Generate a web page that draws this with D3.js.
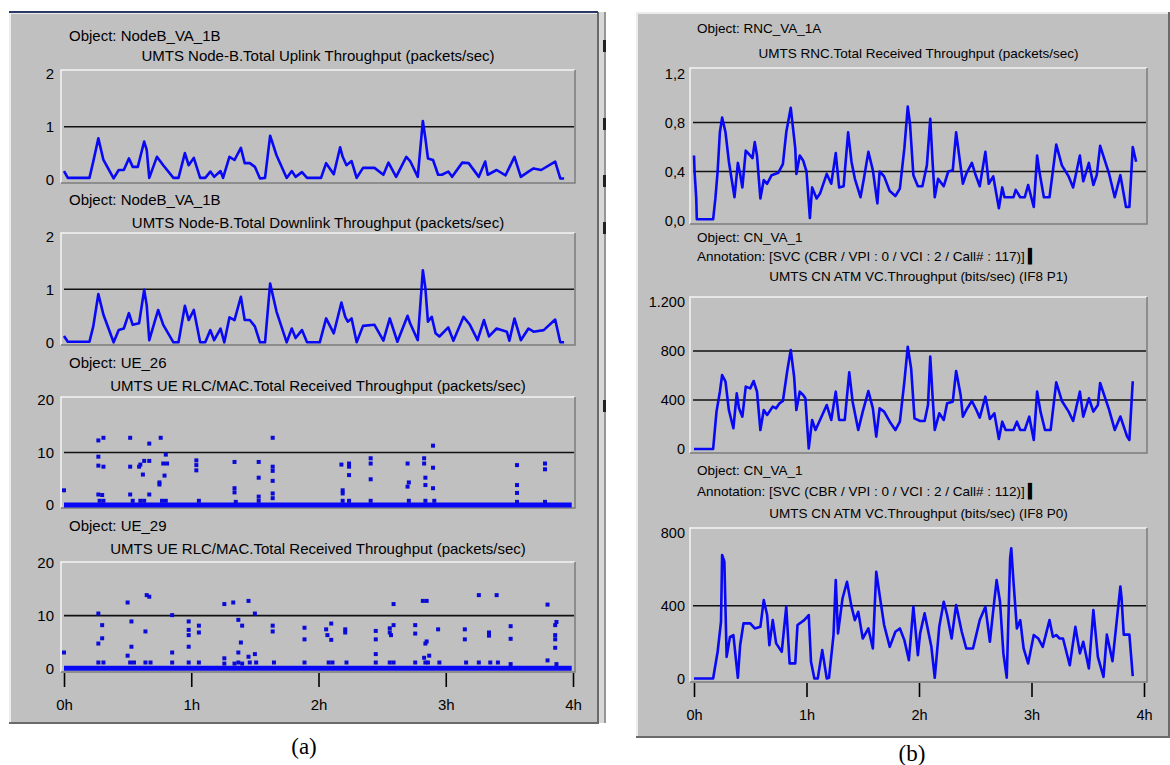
<!DOCTYPE html>
<html lang="en">
<head>
<meta charset="UTF-8">
<title>UMTS throughput results</title>
<script src="https://d3js.org/d3.v7.min.js"></script>
<style>
  body { margin: 0; background: #fff; }
  svg text { font-family: "Liberation Sans", Arial, sans-serif; fill: #000; }
  .cap { font-family: "Liberation Serif", "Times New Roman", serif !important; }
</style>
</head>
<body>
<svg width="1170" height="765"></svg>
<script>
// time axis (hours)
var hourTicks = [0, 1, 2, 3, 4];
var hourLabels = ["0h", "1h", "2h", "3h", "4h"];

// [hour, value] readings
var uplink = [[0,0.16],[0.03,0.03],[0.20,0.03],[0.23,0.34],[0.27,0.78],[0.31,0.37],[0.39,0.02],[0.43,0.18],[0.47,0.18],[0.51,0.40],[0.54,0.24],[0.58,0.24],[0.63,0.72],[0.65,0.56],[0.67,0.03],[0.73,0.43],[0.78,0.27],[0.86,0.03],[0.90,0.03],[0.95,0.50],[0.98,0.27],[1.02,0.41],[1.07,0.03],[1.11,0.03],[1.15,0.15],[1.18,0.05],[1.23,0.16],[1.25,0.03],[1.30,0.43],[1.34,0.37],[1.39,0.60],[1.42,0.31],[1.46,0.31],[1.50,0.24],[1.54,0.02],[1.58,0.03],[1.62,0.83],[1.67,0.46],[1.75,0.03],[1.79,0.16],[1.82,0.05],[1.87,0.14],[1.91,0.03],[2.02,0.03],[2.06,0.31],[2.12,0.10],[2.17,0.61],[2.19,0.43],[2.22,0.27],[2.26,0.35],[2.30,0.03],[2.35,0.22],[2.44,0.22],[2.51,0.09],[2.55,0.32],[2.61,0.05],[2.69,0.43],[2.72,0.35],[2.78,0.05],[2.82,1.11],[2.84,0.78],[2.86,0.40],[2.90,0.37],[2.94,0.09],[2.97,0.09],[3.02,0.15],[3.05,0.05],[3.13,0.32],[3.18,0.31],[3.26,0.05],[3.31,0.34],[3.33,0.09],[3.40,0.18],[3.47,0.08],[3.54,0.43],[3.59,0.05],[3.65,0.15],[3.69,0.21],[3.75,0.18],[3.86,0.34],[3.90,0.02],[3.93,0.02]];

var downlink = [[0,0.12],[0.03,0.01],[0.20,0.01],[0.23,0.30],[0.27,0.91],[0.31,0.52],[0.39,0],[0.43,0.23],[0.47,0.26],[0.51,0.55],[0.54,0.33],[0.59,0.36],[0.63,0.99],[0.65,0.70],[0.67,0.04],[0.74,0.61],[0.78,0.33],[0.86,0],[0.90,0],[0.95,0.69],[0.98,0.42],[1.02,0.61],[1.07,0],[1.11,0],[1.15,0.23],[1.18,0.04],[1.23,0.26],[1.26,0],[1.30,0.47],[1.34,0.42],[1.39,0.86],[1.42,0.42],[1.46,0.42],[1.50,0.30],[1.54,0],[1.58,0],[1.62,1.11],[1.67,0.58],[1.75,0],[1.79,0.26],[1.82,0.08],[1.87,0.23],[1.91,0],[2.01,0],[2.06,0.45],[2.12,0.17],[2.18,0.75],[2.21,0.48],[2.23,0.39],[2.26,0.45],[2.30,0],[2.35,0.31],[2.44,0.33],[2.51,0.03],[2.56,0.45],[2.62,0.01],[2.70,0.50],[2.72,0.36],[2.78,0.04],[2.82,1.36],[2.84,1.02],[2.86,0.39],[2.89,0.48],[2.92,0.17],[2.95,0.11],[3.02,0.28],[3.06,0.03],[3.14,0.48],[3.19,0.33],[3.25,0.04],[3.30,0.42],[3.34,0.11],[3.40,0.26],[3.48,0.20],[3.50,0.03],[3.54,0.45],[3.59,0.04],[3.65,0.26],[3.69,0.20],[3.77,0.23],[3.86,0.43],[3.90,0],[3.93,0]];

var ue26 = [[0,2.8],[0.27,12.3],[0.31,12.8],[0.27,9.2],[0.27,7.5],[0.31,7.3],[0.27,2.0],[0.30,1.9],[0.28,0.8],[0.31,0.8],[0.52,12.8],[0.52,7.3],[0.52,2.0],[0.54,0.8],[0.59,7.3],[0.60,7.7],[0.63,8.4],[0.62,5.8],[0.67,11.7],[0.67,8.4],[0.60,0.8],[0.63,0.8],[0.67,2.0],[0.76,12.8],[0.78,7.9],[0.81,7.9],[0.80,9.6],[0.79,5.6],[0.75,4.3],[0.75,3.9],[0.77,0.8],[0.80,0.8],[1.04,8.5],[1.04,7.6],[1.04,6.6],[1.06,0.8],[1.34,8.2],[1.34,3.2],[1.34,2.4],[1.35,0.6],[1.53,8.2],[1.53,5.2],[1.53,1.6],[1.53,0.8],[1.64,12.8],[1.64,7.3],[1.64,6.5],[1.64,4.6],[1.64,2.2],[1.64,1.3],[2.18,7.7],[2.24,7.9],[2.24,7.3],[2.24,5.7],[2.19,2.8],[2.19,2.2],[2.19,0.8],[2.24,0.8],[2.41,8.9],[2.41,7.9],[2.41,4.9],[2.41,0.8],[2.70,7.9],[2.71,4.3],[2.70,3.5],[2.71,0.8],[2.83,8.9],[2.83,7.9],[2.90,11.3],[2.90,7.1],[2.84,5.2],[2.84,3.8],[2.90,3.2],[2.84,0.8],[2.91,0.8],[3.56,7.6],[3.56,3.8],[3.56,2.3],[3.56,0.6],[3.78,7.9],[3.78,6.8],[3.78,0.6]];
var ue26Zero = [0, 3.99];

var ue29 = [[0,3.0],[0.27,10.4],[0.30,8.2],[0.30,5.7],[0.27,4.7],[0.27,1.1],[0.31,1.1],[0.50,12.5],[0.53,8.9],[0.53,4.1],[0.50,2.4],[0.52,1.1],[0.55,1.1],[0.65,13.9],[0.67,13.6],[0.64,7.0],[0.64,1.1],[0.68,1.1],[0.85,10.1],[0.85,3.0],[0.85,1.1],[0.98,8.9],[0.98,7.3],[0.98,6.3],[0.98,4.1],[0.98,1.1],[1.06,8.1],[1.06,6.8],[1.06,1.1],[1.26,12.2],[1.33,12.5],[1.45,12.8],[1.50,10.4],[1.37,9.2],[1.40,8.1],[1.39,4.9],[1.37,3.0],[1.45,2.2],[1.50,2.7],[1.26,1.9],[1.26,0.9],[1.34,0.9],[1.37,1.1],[1.40,0.9],[1.46,1.1],[1.51,1.1],[1.64,8.1],[1.64,7.0],[1.65,1.1],[1.89,7.7],[1.89,5.5],[1.89,1.1],[2.06,7.4],[2.10,8.5],[2.07,6.3],[2.10,5.4],[2.08,1.1],[2.11,1.1],[2.21,7.4],[2.21,6.8],[2.22,1.1],[2.45,7.1],[2.45,5.5],[2.45,2.7],[2.45,1.1],[2.56,7.6],[2.56,6.8],[2.57,6.3],[2.59,8.2],[2.59,12.2],[2.56,1.1],[2.59,1.1],[2.76,8.2],[2.76,6.6],[2.76,1.1],[2.82,12.8],[2.85,12.8],[2.85,5.1],[2.84,4.7],[2.83,2.0],[2.87,2.4],[2.84,1.1],[2.86,1.1],[2.94,7.4],[2.95,1.1],[3.15,7.4],[3.15,5.5],[3.16,1.1],[3.26,13.9],[3.26,1.1],[3.34,6.8],[3.34,6.2],[3.35,1.1],[3.40,13.9],[3.41,1.1],[3.51,8.0],[3.51,5.6],[3.51,0.8],[3.80,12.1],[3.80,1.5],[3.86,8.2],[3.86,6.3],[3.86,5.5],[3.86,3.9],[3.87,8.8],[3.87,0.8]];
var ue29Zero = [0, 3.99];

var rncRx = [[0,0.53],[0.005,0.40],[0.02,0.18],[0.025,0.01],[0.17,0.01],[0.19,0.18],[0.21,0.40],[0.23,0.72],[0.25,0.84],[0.28,0.72],[0.31,0.48],[0.36,0.19],[0.39,0.47],[0.41,0.38],[0.43,0.27],[0.46,0.57],[0.50,0.53],[0.52,0.51],[0.54,0.64],[0.56,0.53],[0.59,0.18],[0.62,0.33],[0.65,0.30],[0.69,0.37],[0.75,0.39],[0.79,0.46],[0.82,0.72],[0.86,0.92],[0.90,0.59],[0.91,0.38],[0.94,0.53],[0.97,0.49],[1.00,0.40],[1.03,0.02],[1.05,0.27],[1.09,0.18],[1.12,0.22],[1.18,0.38],[1.22,0.30],[1.26,0.55],[1.29,0.27],[1.33,0.28],[1.37,0.72],[1.40,0.48],[1.43,0.34],[1.48,0.19],[1.51,0.34],[1.55,0.56],[1.59,0.41],[1.63,0.14],[1.65,0.40],[1.69,0.36],[1.74,0.24],[1.79,0.20],[1.83,0.26],[1.87,0.59],[1.90,0.93],[1.92,0.79],[1.95,0.37],[1.99,0.28],[2.03,0.28],[2.07,0.45],[2.10,0.83],[2.12,0.49],[2.14,0.19],[2.17,0.34],[2.22,0.28],[2.26,0.40],[2.30,0.41],[2.33,0.72],[2.39,0.30],[2.42,0.38],[2.47,0.47],[2.50,0.38],[2.54,0.28],[2.59,0.56],[2.62,0.30],[2.66,0.36],[2.71,0.10],[2.74,0.27],[2.76,0.19],[2.84,0.19],[2.86,0.25],[2.90,0.19],[2.94,0.19],[2.97,0.29],[3.02,0.11],[3.05,0.53],[3.07,0.40],[3.11,0.19],[3.16,0.19],[3.22,0.62],[3.27,0.45],[3.33,0.36],[3.37,0.27],[3.43,0.53],[3.46,0.32],[3.51,0.47],[3.55,0.29],[3.58,0.37],[3.61,0.61],[3.69,0.38],[3.74,0.19],[3.79,0.37],[3.84,0.11],[3.87,0.11],[3.90,0.60],[3.93,0.48]];

var vcP1 = [[0,0],[0.17,0],[0.20,305],[0.23,468],[0.25,604],[0.28,550],[0.31,318],[0.35,169],[0.38,454],[0.40,332],[0.43,264],[0.46,509],[0.50,495],[0.53,555],[0.56,468],[0.59,155],[0.62,318],[0.65,278],[0.70,346],[0.73,332],[0.76,373],[0.79,392],[0.83,645],[0.86,808],[0.89,590],[0.91,318],[0.94,468],[0.97,441],[0.99,414],[1.02,5],[1.05,237],[1.08,155],[1.12,237],[1.18,359],[1.22,237],[1.26,468],[1.29,237],[1.34,237],[1.38,626],[1.41,386],[1.46,155],[1.50,305],[1.55,473],[1.59,332],[1.62,101],[1.65,332],[1.69,305],[1.74,223],[1.79,155],[1.83,223],[1.87,550],[1.90,835],[1.93,658],[1.96,250],[2.01,229],[2.05,229],[2.08,359],[2.10,754],[2.12,441],[2.14,155],[2.18,291],[2.22,237],[2.25,373],[2.30,386],[2.33,637],[2.37,441],[2.39,264],[2.42,318],[2.47,392],[2.51,318],[2.54,256],[2.59,427],[2.63,245],[2.67,291],[2.71,82],[2.74,223],[2.77,155],[2.84,155],[2.87,223],[2.90,155],[2.94,155],[2.98,264],[3.02,73],[3.05,468],[3.08,305],[3.12,155],[3.17,155],[3.22,544],[3.27,392],[3.33,305],[3.37,229],[3.43,468],[3.46,264],[3.51,414],[3.55,305],[3.59,359],[3.61,539],[3.69,320],[3.74,156],[3.79,265],[3.85,101],[3.87,74],[3.90,553]];

var vcP0 = [[0,0],[0.17,0],[0.21,147],[0.24,312],[0.25,679],[0.27,642],[0.29,119],[0.32,229],[0.35,239],[0.39,4],[0.41,183],[0.44,303],[0.50,303],[0.54,275],[0.59,284],[0.62,431],[0.65,349],[0.67,183],[0.70,321],[0.73,193],[0.78,147],[0.82,395],[0.85,83],[0.90,83],[0.92,294],[0.98,321],[1.02,349],[1.04,92],[1.07,0],[1.10,0],[1.14,156],[1.18,0],[1.20,4],[1.24,239],[1.26,541],[1.28,248],[1.32,440],[1.36,532],[1.40,395],[1.43,321],[1.46,367],[1.50,220],[1.55,275],[1.59,165],[1.62,587],[1.65,459],[1.69,294],[1.74,174],[1.79,257],[1.83,275],[1.87,211],[1.91,101],[1.95,395],[1.99,128],[2.01,248],[2.05,358],[2.08,266],[2.11,174],[2.14,4],[2.18,284],[2.22,422],[2.25,349],[2.29,220],[2.33,404],[2.38,257],[2.42,165],[2.48,165],[2.54,321],[2.59,395],[2.63,202],[2.67,431],[2.69,541],[2.72,422],[2.75,138],[2.78,4],[2.81,661],[2.82,716],[2.84,532],[2.87,275],[2.90,321],[2.93,165],[2.97,83],[3.02,239],[3.06,220],[3.10,174],[3.16,321],[3.19,229],[3.22,239],[3.25,220],[3.28,220],[3.34,73],[3.39,284],[3.43,138],[3.46,202],[3.51,55],[3.55,376],[3.59,119],[3.64,9],[3.67,241],[3.72,95],[3.79,506],[3.80,446],[3.82,241],[3.87,241],[3.90,13]];

// y tick values and their labels
var pktTicks = [0, 1, 2], pktLabels = ["0", "1", "2"];
var ueTicks = [0, 10, 20], ueLabels = ["0", "10", "20"];
var rncTicks = [0, 0.4, 0.8, 1.2], rncLabels = ["0,0", "0,4", "0,8", "1,2"];
var p1Ticks = [0, 400, 800, 1200], p1Labels = ["0", "400", "800", "1.200"];
var p0Ticks = [0, 400, 800], p0Labels = ["0", "400", "800"];

var BLUE = "#0808f4", GRAY = "#c0c0c0";
var svg = d3.select("svg");

var xa = d3.scaleLinear().domain([0, 4]).range([64, 573]);
var xb = d3.scaleLinear().domain([0, 4]).range([694, 1144]);

function panel(x0, y0, x1, y1) {
  var g = svg.append("g");
  g.append("rect").attr("x", x0).attr("y", y0).attr("width", x1 - x0).attr("height", y1 - y0).attr("fill", GRAY);
  g.append("path").attr("d", "M" + (x0 + 1) + "," + (y1 - 1) + "V" + (y0 + 1) + "H" + (x1 - 1))
    .attr("fill", "none").attr("stroke", "#ececec").attr("stroke-width", 2);
  g.append("path").attr("d", "M" + x0 + "," + y1 + "H" + x1 + "V" + y0)
    .attr("fill", "none").attr("stroke", "#6a6a6a").attr("stroke-width", 2);
  return g;
}

function plot(o) {
  var g = svg.append("g");
  var y = d3.scaleLinear().domain(o.domain).range(o.range);
  var r = o.box;
  g.append("rect").attr("x", r[0]).attr("y", r[1]).attr("width", r[2] - r[0]).attr("height", r[3] - r[1]).attr("fill", GRAY);
  g.append("path").attr("d", "M" + r[0] + "," + r[3] + "V" + r[1] + "H" + r[2])
    .attr("fill", "none").attr("stroke", "#f4f4f4").attr("stroke-width", 1.5);
  g.append("path").attr("d", "M" + r[0] + "," + r[3] + "H" + r[2] + "V" + r[1])
    .attr("fill", "none").attr("stroke", "#7c7c7c").attr("stroke-width", 1.5);

  g.selectAll(".grid").data(o.grid).enter().append("line")
    .attr("x1", r[0] + 3).attr("x2", r[2] - 1)
    .attr("y1", function(d) { return y(d); }).attr("y2", function(d) { return y(d); })
    .attr("stroke", "#111").attr("stroke-width", 1.6);

  var yAxis = d3.axisLeft(y).tickValues(o.ticks)
    .tickFormat(function(d, i) { return o.labels[i]; })
    .tickSize(0).tickPadding(o.pad);
  var ya = g.append("g").attr("transform", "translate(" + r[0] + ",0)").call(yAxis);
  ya.select(".domain").remove();
  ya.selectAll("text").attr("font-size", o.tickFont).attr("font-family", null).attr("fill", "#000");

  o.lines.forEach(function(l) {
    g.append("text").attr("x", l[1] === "middle" ? (r[0] + r[2]) / 2 : o.textX)
      .attr("y", l[2]).attr("dominant-baseline", "central")
      .attr("text-anchor", l[1]).attr("font-size", o.font).text(l[0]);
  });

  if (o.kind === "line") {
    var line = d3.line().x(function(d) { return o.x(d[0]); }).y(function(d) { return y(d[1]); });
    g.append("path").datum(o.data).attr("d", line)
      .attr("fill", "none").attr("stroke", BLUE).attr("stroke-width", 2.6).attr("stroke-linejoin", "round");
  } else {
    g.append("line").attr("x1", o.x(o.zero[0])).attr("x2", o.x(o.zero[1]))
      .attr("y1", y(0)).attr("y2", y(0)).attr("stroke", BLUE).attr("stroke-width", 5);
    g.selectAll(".pt").data(o.data).enter().append("rect")
      .attr("x", function(d) { return o.x(d[0]) - 2; })
      .attr("y", function(d) { return y(d[1]) - 2; })
      .attr("width", 4).attr("height", 4).attr("fill", "#0a0ad8");
  }
  return g;
}

function timeAxis(x, yPos, font, pad) {
  var ax = d3.axisBottom(x).tickValues(hourTicks)
    .tickFormat(function(d, i) { return hourLabels[i]; })
    .tickSize(14).tickPadding(pad);
  var g = svg.append("g").attr("transform", "translate(0," + yPos + ")").call(ax);
  g.select(".domain").remove();
  g.selectAll("line").attr("stroke", "#000").attr("stroke-width", 1.6);
  g.selectAll("text").attr("font-size", font).attr("font-family", null).attr("fill", "#000");
}

// ---- panel (a)
panel(9, 12, 598, 723);
svg.append("line").attr("x1", 9).attr("x2", 598).attr("y1", 12).attr("y2", 12).attr("stroke", "#2a3a66").attr("stroke-width", 2);
svg.append("rect").attr("x", 599).attr("y", 12).attr("width", 7).attr("height", 711).attr("fill", "#d8d8d8");
svg.append("line").attr("x1", 605).attr("x2", 605).attr("y1", 12).attr("y2", 723).attr("stroke", "#555").attr("stroke-width", 1);
[40, 118, 175, 222, 400].forEach(function(m) {
  svg.append("rect").attr("x", 603).attr("y", m).attr("width", 3).attr("height", 12).attr("fill", "#222");
});

var leftBase = { x: xa, pad: 7, tickFont: 15, font: 15, textX: 69, kind: "line" };
plot(Object.assign({}, leftBase, {
  box: [61, 70, 575, 183], domain: [0, 2], range: [179.5, 74], ticks: pktTicks, labels: pktLabels, grid: [1],
  lines: [["Object: NodeB_VA_1B", "start", 35], ["UMTS Node-B.Total Uplink Throughput (packets/sec)", "middle", 55]],
  data: uplink
}));
plot(Object.assign({}, leftBase, {
  box: [61, 233, 575, 345], domain: [0, 2], range: [342.3, 236.3], ticks: pktTicks, labels: pktLabels, grid: [1],
  lines: [["Object: NodeB_VA_1B", "start", 199], ["UMTS Node-B.Total Downlink Throughput (packets/sec)", "middle", 222]],
  data: downlink
}));
plot(Object.assign({}, leftBase, {
  kind: "dots", box: [61, 397, 575, 508], domain: [0, 20], range: [505, 400], ticks: ueTicks, labels: ueLabels, grid: [10],
  lines: [["Object: UE_26", "start", 362], ["UMTS UE RLC/MAC.Total Received Throughput (packets/sec)", "middle", 385]],
  data: ue26, zero: ue26Zero
}));
plot(Object.assign({}, leftBase, {
  kind: "dots", box: [61, 562, 575, 672], domain: [0, 20], range: [668.3, 563], ticks: ueTicks, labels: ueLabels, grid: [10],
  lines: [["Object: UE_29", "start", 525], ["UMTS UE RLC/MAC.Total Received Throughput (packets/sec)", "middle", 548]],
  data: ue29, zero: ue29Zero
}));
timeAxis(xa, 673, 15, 12);

// ---- panel (b)
panel(636, 12, 1169, 737);
var rightBase = { x: xb, pad: 5, tickFont: 14.5, font: 13.5, textX: 697, kind: "line" };
plot(Object.assign({}, rightBase, {
  box: [690, 68, 1147, 224], domain: [0, 1.2], range: [220.5, 73.5], ticks: rncTicks, labels: rncLabels, grid: [0.4, 0.8],
  lines: [["Object: RNC_VA_1A", "start", 28], ["UMTS RNC.Total Received Throughput (packets/sec)", "middle", 53]],
  data: rncRx
}));
plot(Object.assign({}, rightBase, {
  box: [690, 297, 1147, 453], domain: [0, 1200], range: [449, 302], ticks: p1Ticks, labels: p1Labels, grid: [400, 800],
  lines: [["Object: CN_VA_1", "start", 237], ["Annotation: [SVC (CBR / VPI : 0 / VCI : 2 / Call# : 117)] \u258D", "start", 256],
          ["UMTS CN ATM VC.Throughput (bits/sec) (IF8 P1)", "middle", 276]],
  data: vcP1
}));
plot(Object.assign({}, rightBase, {
  box: [690, 528, 1147, 682], domain: [0, 800], range: [678.5, 533], ticks: p0Ticks, labels: p0Labels, grid: [400],
  lines: [["Object: CN_VA_1", "start", 470], ["Annotation: [SVC (CBR / VPI : 0 / VCI : 2 / Call# : 112)] \u258D", "start", 491],
          ["UMTS CN ATM VC.Throughput (bits/sec) (IF8 P0)", "middle", 513]],
  data: vcP0
}));
timeAxis(xb, 683, 14.5, 13);

// captions
svg.append("text").attr("class", "cap").attr("x", 304).attr("y", 746).attr("text-anchor", "middle")
  .attr("dominant-baseline", "central").attr("font-size", 23).text("(a)");
svg.append("text").attr("class", "cap").attr("x", 912).attr("y", 753).attr("text-anchor", "middle")
  .attr("dominant-baseline", "central").attr("font-size", 23).text("(b)");
</script>
</body>
</html>
